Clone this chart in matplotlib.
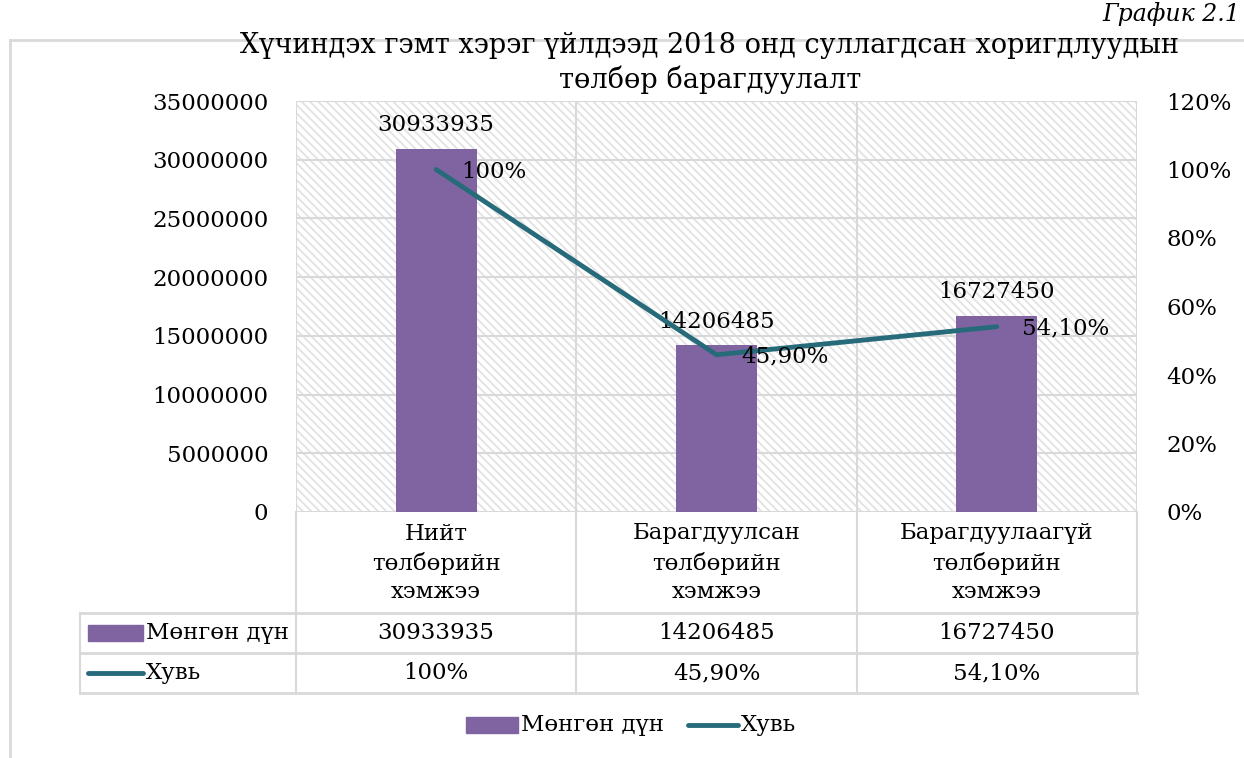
import matplotlib
matplotlib.use("Agg")
import matplotlib.pyplot as plt
from matplotlib.patches import Rectangle
from matplotlib.lines import Line2D
import matplotlib.transforms as mtransforms
from matplotlib.ticker import FuncFormatter

plt.rcParams['font.family'] = ['DejaVu Serif']
plt.rcParams['hatch.linewidth'] = 1.3
plt.rcParams['hatch.color'] = '#E2E2E2'

# ---- data ----
categories = ["Нийт\nтөлбөрийн\nхэмжээ", "Барагдуулсан\nтөлбөрийн\nхэмжээ", "Барагдуулаагүй\nтөлбөрийн\nхэмжээ"]
amounts = [30933935, 14206485, 16727450]
shares = [1.00, 0.459, 0.541]
share_labels = ["100%", "45,90%", "54,10%"]
series_names = ["Мөнгөн дүн", "Хувь"]
title = "Хүчиндэх гэмт хэрэг үйлдээд 2018 онд суллагдсан хоригдлуудын\nтөлбөр барагдуулалт"
caption = "График 2.1"

BAR_C = '#8064A2'
LINE_C = '#276B7A'
GRID_C = '#D9D9D9'
FS = 16.5

W, H = 1244, 758
fig = plt.figure(figsize=(W / 100, H / 100), dpi=100)

def fx(x): return x / W
def fy(y): return 1 - y / H

ax = fig.add_axes([fx(296), fy(512), fx(1137) - fx(296), fy(101) - fy(512)])
ax.set_xlim(-0.5, len(categories) - 0.5)
ax.set_ylim(0, 35000000)
ax.set_yticks(range(0, 35000001, 5000000))
ax.yaxis.set_major_formatter(FuncFormatter(lambda v, p: f"{int(v)}"))
ax.set_xticks([])
for s in ax.spines.values():
    s.set_visible(False)
ax.tick_params(axis='y', length=0, labelsize=FS, pad=20)

# hatched background
ax.add_patch(Rectangle((0, 0), 1, 1, transform=ax.transAxes, facecolor='white',
                       edgecolor='#E2E2E2', hatch='\\\\\\\\', linewidth=0, zorder=0))
for v in range(0, 35000001, 5000000):
    ax.axhline(v, color=GRID_C, lw=1.5, zorder=1)
for xb in [-0.5, 0.5, 1.5, 2.5]:
    ax.axvline(xb, color=GRID_C, lw=1.5, zorder=1)

x = list(range(len(categories)))
bars = ax.bar(x, amounts, width=0.29, color=BAR_C, zorder=3)
for xi, v in zip(x, amounts):
    ax.annotate(f"{v}", (xi, v), xytext=(0, 9), textcoords='offset points',
                ha='center', va='bottom', fontsize=FS, zorder=5)

ax2 = ax.twinx()
ax2.set_ylim(0, 1.2)
ax2.set_yticks([i / 10 for i in range(0, 13, 2)])
ax2.yaxis.set_major_formatter(FuncFormatter(lambda v, p: f"{round(v * 100)}%"))
for s in ax2.spines.values():
    s.set_visible(False)
ax2.tick_params(axis='y', length=0, labelsize=FS, pad=21)
ax2.plot(x, shares, color=LINE_C, lw=3.5, zorder=4, solid_capstyle='round')
for xi, v, lab in zip(x, shares, share_labels):
    ax2.annotate(lab, (xi, v), xytext=(18, -1.5), textcoords='offset points',
                 ha='left', va='center', fontsize=FS, zorder=5)

# ---- data table below ----
blend = mtransforms.blended_transform_factory(ax.transData, fig.transFigure)
y_top, y_r1, y_r2, y_r3 = fy(512), fy(613), fy(653), fy(693)
for xb in [-0.5, 0.5, 1.5, 2.5]:
    fig.add_artist(Line2D([xb, xb], [y_top, y_r3], transform=blend, color=GRID_C, lw=1.5))
for yy in [y_r1, y_r2, y_r3]:
    fig.add_artist(Line2D([fx(80), fx(1137)], [yy, yy], transform=fig.transFigure, color=GRID_C, lw=2))
fig.add_artist(Line2D([fx(80), fx(80)], [y_r1, y_r3], transform=fig.transFigure, color=GRID_C, lw=1.5))

for xi, c in zip(x, categories):
    fig.text(xi, fy(563), c, transform=blend, ha='center', va='center', fontsize=FS,
             linespacing=1.4)
for xi, v in zip(x, amounts):
    fig.text(xi, (y_r1 + y_r2) / 2, f"{v}", transform=blend, ha='center', va='center', fontsize=FS)
for xi, lab in zip(x, share_labels):
    fig.text(xi, (y_r2 + y_r3) / 2, lab, transform=blend, ha='center', va='center', fontsize=FS)

# row keys
fig.add_artist(Rectangle((fx(88), fy(641)), fx(143) - fx(88), fy(625) - fy(641),
                         transform=fig.transFigure, color=BAR_C))
fig.text(fx(146), (y_r1 + y_r2) / 2, series_names[0], ha='left', va='center', fontsize=FS)
fig.add_artist(Line2D([fx(88), fx(143)], [fy(673), fy(673)], transform=fig.transFigure,
                      color=LINE_C, lw=3.5, solid_capstyle='round'))
fig.text(fx(146), (y_r2 + y_r3) / 2, series_names[1], ha='left', va='center', fontsize=FS)

# bottom legend
fig.add_artist(Rectangle((fx(466), fy(733)), fx(518) - fx(466), fy(717) - fy(733),
                         transform=fig.transFigure, color=BAR_C))
fig.text(fx(521), fy(725), series_names[0], ha='left', va='center', fontsize=FS)
fig.add_artist(Line2D([fx(688), fx(738)], [fy(725), fy(725)], transform=fig.transFigure,
                      color=LINE_C, lw=3.5, solid_capstyle='round'))
fig.text(fx(741), fy(725), series_names[1], ha='left', va='center', fontsize=FS)

# title
fig.text(fx(710), fy(63), title, ha='center', va='center', fontsize=19.5, linespacing=1.3)

# outer chart frame
fig.add_artist(Line2D([fx(10), fx(1244)], [fy(40), fy(40)], transform=fig.transFigure, color=GRID_C, lw=2))
fig.add_artist(Line2D([fx(10), fx(10)], [fy(40), fy(758)], transform=fig.transFigure, color=GRID_C, lw=2))

# caption (top right)
fig.text(fx(1240), fy(2), caption, ha='right', va='top', fontsize=17, style='italic')

fig.savefig("out.png", dpi=100)
